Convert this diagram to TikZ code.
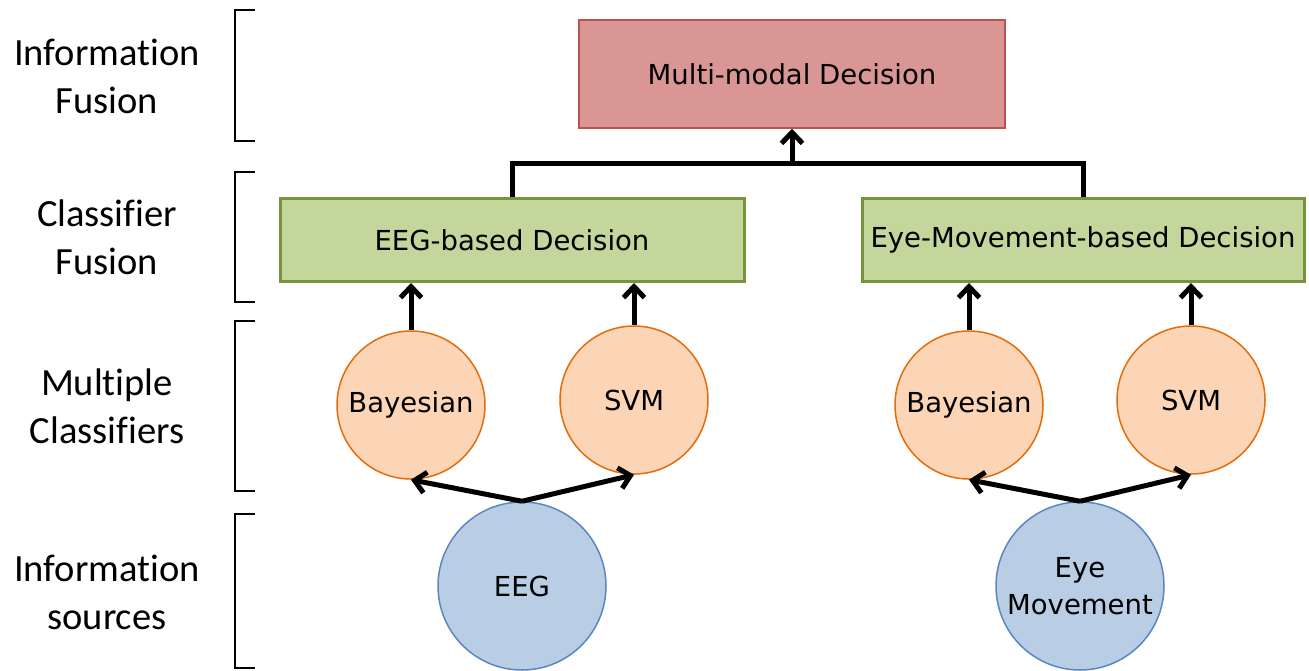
\documentclass[tikz,border=0pt]{standalone}
\usepackage{fontspec}
\setmainfont{Carlito}[Ligatures=NoCommon]
\newfontfamily\boxfont{DejaVu Sans}
\usetikzlibrary{arrows.meta}
\definecolor{redfill}{HTML}{D99694}
\definecolor{redline}{HTML}{B85450}
\definecolor{greenfill}{HTML}{C3D69B}
\definecolor{greenline}{HTML}{77933C}
\definecolor{orangefill}{HTML}{FBD5B5}
\definecolor{orangeline}{HTML}{E46C0A}
\definecolor{bluefill}{HTML}{B9CDE5}
\definecolor{blueline}{HTML}{5B87C0}
\tikzset{
  lbl/.style={align=center, font=\fontsize{38.5}{48}\selectfont},
  boxtxt/.style={font=\boxfont\fontsize{27.5}{37}\selectfont},
  redbox/.style={boxtxt, draw=redline, fill=redfill, line width=1.5pt, inner sep=0pt},
  greenbox/.style={boxtxt, draw=greenline, fill=greenfill, line width=3pt, inner sep=0pt, minimum height=83pt},
  clf/.style={boxtxt, circle, draw=orangeline, fill=orangefill, line width=1.5pt, minimum size=148pt, inner sep=0pt},
  src/.style={boxtxt, circle, draw=blueline, fill=bluefill, line width=1.5pt, minimum size=168pt, inner sep=0pt, align=center},
  conn/.style={line width=5pt, black},
  arr/.style={conn, -{Straight Barb[length=11pt,width=21pt]}},
  brk/.style={line width=2.5pt, black}
}
\begin{document}
\begin{tikzpicture}[x=1pt,y=-1pt]
\useasboundingbox (0,0) rectangle (1309,670);
% left labels
\node[lbl] (l1) at (107,76) {Information\\Fusion};
\node[lbl] (l2) at (107,237) {Classifier\\Fusion};
\node[lbl] (l3) at (107,406) {Multiple\\Classifiers};
\node[lbl] (l4) at (107,592) {Information\\sources};
% brackets
\draw[brk] (255,10) -- (235,10) -- (235,141) -- (255,141);
\draw[brk] (255,172) -- (235,172) -- (235,302) -- (255,302);
\draw[brk] (255,321) -- (235,321) -- (235,491) -- (255,491);
\draw[brk] (255,514) -- (235,514) -- (235,668) -- (255,668);
% boxes
\node[redbox, minimum width=426pt, minimum height=108pt] (md) at (792,74) {Multi-modal Decision};
\node[greenbox, minimum width=464pt] (eegd) at (512,240) {EEG-based Decision};
\node[greenbox, minimum width=442pt] (eyed) at (1083,240) {Eye-Movement-based Decision};
% classifiers
\node[clf] (bay1) at (411,405) {Bayesian};
\node[clf] (svm1) at (634,400) {SVM};
\node[clf] (bay2) at (969,405) {Bayesian};
\node[clf] (svm2) at (1191,400) {SVM};
% sources
\node[src] (eeg) at (522,586) {EEG};
\node[src] (eye) at (1080,586) {Eye\\Movement};
% connectors
\coordinate (j) at (792,163);
\draw[conn] (eegd.north) |- (j) -| (eyed.north);
\draw[arr] (j) -- (md.south);
\draw[arr] (bay1.north) -- (bay1.north |- eegd.south);
\draw[arr] (svm1.north) -- (svm1.north |- eegd.south);
\draw[arr] (bay2.north) -- (bay2.north |- eyed.south);
\draw[arr] (svm2.north) -- (svm2.north |- eyed.south);
\draw[arr] (eeg.north) -- (bay1.south);
\draw[arr] (eeg.north) -- (svm1.south);
\draw[arr] (eye.north) -- (bay2.south);
\draw[arr] (eye.north) -- (svm2.south);
\end{tikzpicture}
\end{document}
